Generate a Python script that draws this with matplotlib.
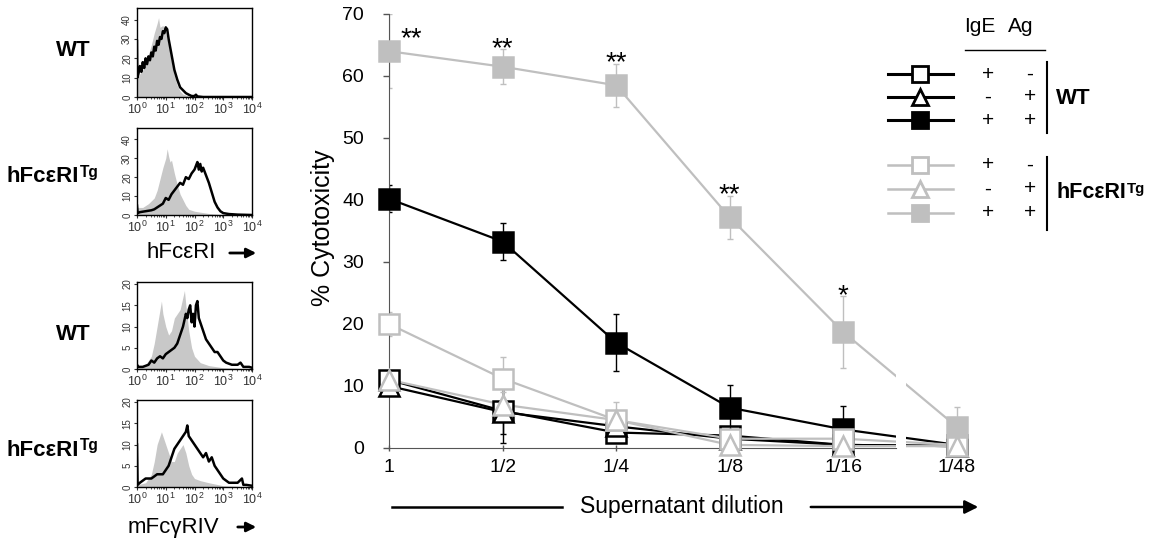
import numpy as np
import matplotlib
matplotlib.use('Agg')
import matplotlib.pyplot as plt
from matplotlib.ticker import LogLocator, NullFormatter

plt.rcParams['font.family'] = ['Liberation Sans', 'DejaVu Sans']

# ---- cytotoxicity data ----
dilutions = ['1', '1/2', '1/4', '1/8', '1/16', '1/48']

wt_ige = [11, 6, 2.5, 2, 0.5, 0.3]
wt_ige_err = [1.5, 3.8, 1, 1, 0.5, 0.3]
wt_ag = [10, 5.8, 3.5, 1.5, 0.5, 0.3]
wt_ag_err = [1, 5, 0.8, 0.8, 0.5, 0.3]
wt_both = [40.2, 33.3, 17, 6.5, 3, 0.5]
wt_both_err = [2.2, 3, 4.6, 3.6, 3.7, 0.5]

tg_ige = [20, 11.2, 4.5, 1.5, 1.5, 0.5]
tg_ige_err = [2, 3.5, 1, 0.5, 0.5, 0.3]
tg_ag = [11, 7, 4.5, 0.5, 0.3, 0.3]
tg_ag_err = [1, 2, 3, 0.5, 0.3, 0.3]
tg_both = [64, 61.5, 58.5, 37.2, 18.7, 3.4]
tg_both_err = [6, 2.8, 3.5, 3.5, 5.8, 3.2]

stars = ['**', '**', '**', '**', '*', '']

# ---- flow histograms: log10 position, counts ----
h1_iso_d = [0, 0.1, 0.2, 0.3, 0.4, 0.5, 0.6, 0.7, 0.75, 0.8, 0.9, 1.0, 1.1, 1.2, 1.3, 1.4, 1.5, 1.6, 1.8, 2.0, 2.5, 4]
h1_iso_v = [10, 12, 14, 18, 22, 27, 33, 38, 41, 36, 37, 33, 27, 18, 11, 6, 3, 1.5, 0.5, 0.2, 0, 0]
h1_st_d = [0, 0.01, 0.05, 0.1, 0.15, 0.2, 0.25, 0.3, 0.35, 0.4, 0.45, 0.5, 0.55, 0.6, 0.65, 0.7, 0.75, 0.8,
           0.85, 0.9, 0.95, 1.0, 1.05, 1.1, 1.2, 1.3, 1.4, 1.5, 1.6, 1.7, 1.8, 1.9, 2.0, 2.05, 2.1, 2.3, 4]
h1_st_v = [29, 10, 12, 16, 13, 18, 15, 20, 17, 21, 19, 23, 21, 26, 24, 29, 27, 31, 30, 34, 33, 36, 35, 30,
           22, 14, 9, 5, 3.5, 2, 1.2, 0.5, 0.5, 1.2, 0.3, 0, 0]

h2_iso_d = [0, 0.2, 0.4, 0.6, 0.7, 0.8, 0.9, 1.0, 1.05, 1.1, 1.15, 1.2, 1.3, 1.4, 1.5, 1.6, 1.7, 1.8, 2.0, 2.2, 2.5, 3.0, 4]
h2_iso_v = [4, 4, 6, 9, 13, 19, 25, 30, 35, 31, 28, 29, 22, 16, 11, 8, 5, 3, 2, 1.5, 0.8, 0.2, 0]
h2_st_d = [0, 0.02, 0.1, 0.3, 0.5, 0.6, 0.7, 0.8, 0.9, 1.0, 1.1, 1.2, 1.3, 1.4, 1.5, 1.6, 1.7, 1.8, 1.9, 2.0,
           2.05, 2.1, 2.15, 2.2, 2.25, 2.3, 2.4, 2.5, 2.6, 2.7, 2.8, 2.9, 3.0, 3.2, 3.5, 4]
h2_st_v = [5, 1, 1.5, 2, 2.5, 3, 4, 5, 6, 9, 8, 11, 13, 15, 17, 16, 20, 19, 22, 24, 26, 28, 24, 27, 23, 25,
           21, 17, 12, 7, 4, 2, 1, 0.5, 0.2, 0]

h3_iso_d = [0, 0.3, 0.5, 0.6, 0.7, 0.8, 0.85, 0.9, 1.0, 1.1, 1.2, 1.3, 1.4, 1.5, 1.6, 1.65, 1.7, 1.8, 1.9, 2.0, 2.2, 2.5, 3.0, 4]
h3_iso_v = [0.5, 1, 3, 6, 10, 14, 16, 13, 10, 8, 9, 12, 13, 14, 17, 18.5, 15, 9, 5, 3, 1.5, 0.8, 0.3, 0]
h3_st_d = [0, 0.05, 0.2, 0.4, 0.5, 0.6, 0.7, 0.8, 0.9, 1.0, 1.1, 1.2, 1.3, 1.4, 1.5, 1.6, 1.7, 1.75, 1.8,
           1.85, 1.9, 1.95, 2.0, 2.05, 2.1, 2.15, 2.2, 2.3, 2.4, 2.5, 2.6, 2.7, 2.8, 2.9, 3.0, 3.1, 3.3,
           3.5, 3.6, 3.7, 3.9, 4]
h3_st_v = [1, 0.5, 0.5, 1, 2, 1.5, 2.5, 3, 2.5, 3.5, 4, 4.5, 5, 6, 8, 10, 13, 12, 14, 15, 11, 13, 10, 15,
           16, 12, 11, 9, 7, 6, 5, 4, 4, 3, 2, 1.5, 1, 1, 1.5, 0.5, 0.5, 0.3]

h4_iso_d = [0, 0.3, 0.5, 0.6, 0.7, 0.8, 0.85, 0.9, 1.0, 1.1, 1.2, 1.3, 1.4, 1.5, 1.6, 1.7, 1.8, 1.9, 2.0, 2.2, 2.5, 3.0, 4]
h4_iso_v = [0.5, 1, 3, 6, 10, 12, 13, 12, 10, 8, 6, 6, 8, 9, 10, 8, 5, 3, 2, 1.5, 1, 0.3, 0]
h4_st_d = [0, 0.02, 0.1, 0.3, 0.5, 0.7, 0.9, 1.0, 1.1, 1.2, 1.3, 1.4, 1.5, 1.6, 1.7, 1.75, 1.8, 1.9, 2.0,
           2.1, 2.2, 2.3, 2.4, 2.5, 2.6, 2.7, 2.8, 2.9, 3.0, 3.2, 3.5, 3.65, 3.7, 3.8, 4]
h4_st_v = [10, 0.5, 1, 2, 2, 3, 3, 4, 5, 7, 9, 10, 11, 12, 13, 14.5, 12, 11, 10, 9, 8, 7, 8, 6, 7, 5, 4,
           3, 2, 1, 1, 2, 0.5, 0.5, 0.3]

GRAY = '#bfbfbf'
FILL = '#c8c8c8'
W, H = 1155, 542

fig = plt.figure(figsize=(W / 100, H / 100), dpi=100)


def px_axes(left, top, right, bottom):
    return fig.add_axes([left / W, 1 - bottom / H, (right - left) / W, (bottom - top) / H])


# ---- main cytotoxicity chart ----
ax = px_axes(389, 14, 991, 448)
ax.set_facecolor('none')
x = np.arange(len(dilutions))

# black series first, grey ones end up on top
series = [
    (wt_both, wt_both_err, 'black', 's', True),
    (wt_ige, wt_ige_err, 'black', 's', False),
    (wt_ag, wt_ag_err, 'black', '^', False),
    (tg_ige, tg_ige_err, GRAY, 's', False),
    (tg_ag, tg_ag_err, GRAY, '^', False),
    (tg_both, tg_both_err, GRAY, 's', True),
]
for vals, errs, col, mk, filled in series:
    ax.plot(x, vals, color=col, lw=1.6, zorder=2)
    ax.errorbar(x, vals, yerr=errs, fmt='none', ecolor=col, elinewidth=1, capsize=2, capthick=1, zorder=2)
for vals, errs, col, mk, filled in series:
    ax.plot(x, vals, ls='none', marker=mk, ms=14, mec=col, mew=1.8,
            mfc=col if filled else 'white', zorder=5, clip_on=False)

# axis break between 1/16 and 1/48
ax.axvspan(4.46, 4.55, color='white', lw=0, zorder=4)

for i, s in enumerate(stars):
    if not s:
        continue
    top = tg_both[i] + tg_both_err[i]
    if i == 0:
        ax.text(i + 0.2, tg_both[i] + 2.0, s, ha='center', va='center', fontsize=20)
    else:
        ax.text(i, top, s, ha='center', va='center', fontsize=20)

ax.set_xlim(0, 5.3)
ax.set_ylim(0, 70)
ax.set_yticks(range(0, 71, 10))
ax.set_xticks(x)
ax.set_xticklabels(dilutions)
for sp in ['top', 'right']:
    ax.spines[sp].set_visible(False)
ax.spines['bottom'].set_bounds(0, 4.46)
ax.spines['left'].set_color('#555555')
ax.spines['bottom'].set_color('#555555')
ax.tick_params(axis='y', length=4, width=1, pad=14, labelsize=14, colors='#555555', labelcolor='black')
ax.tick_params(axis='x', length=4, width=1, pad=6, labelsize=14, direction='inout', colors='#555555',
               labelcolor='black')


# ---- flow histograms ----
def hist_panel(box, iso_d, iso_v, st_d, st_v, ymax, yticks):
    h = px_axes(*box)
    h.fill_between(10 ** np.array(iso_d), iso_v, color=FILL, lw=0)
    h.plot(10 ** np.array(st_d), st_v, color='black', lw=1.8)
    h.set_xscale('log')
    h.set_xlim(1, 1e4)
    h.set_ylim(0, ymax)
    h.set_yticks(yticks)
    h.xaxis.set_major_locator(LogLocator(base=10, numticks=5))
    h.xaxis.set_minor_locator(LogLocator(base=10, subs=np.arange(2, 10), numticks=20))
    h.xaxis.set_minor_formatter(NullFormatter())
    h.tick_params(which='both', direction='out', length=2.5, pad=1, colors='#333333')
    h.tick_params(axis='x', labelsize=9)
    h.tick_params(axis='y', labelsize=7)
    h.tick_params(which='minor', length=1.5)
    for lab in h.get_yticklabels():
        lab.set_rotation(90)
        lab.set_va('center')
    for sp in h.spines.values():
        sp.set_linewidth(1)
    return h


hist_panel((137, 8, 252, 97), h1_iso_d, h1_iso_v, h1_st_d, h1_st_v, 46, [0, 10, 20, 30, 40])
hist_panel((137, 128, 252, 215), h2_iso_d, h2_iso_v, h2_st_d, h2_st_v, 46, [0, 10, 20, 30, 40])
hist_panel((137, 282, 252, 369), h3_iso_d, h3_iso_v, h3_st_d, h3_st_v, 20.5, [0, 5, 10, 15, 20])
hist_panel((137, 400, 252, 487), h4_iso_d, h4_iso_v, h4_st_d, h4_st_v, 20.5, [0, 5, 10, 15, 20])

# ---- overlay for labels and legend (pixel coordinates) ----
ov = fig.add_axes([0, 0, 1, 1])
ov.set_xlim(0, W)
ov.set_ylim(H, 0)
ov.axis('off')


def tg_label(xp, yp, size, ha='left'):
    t = ov.text(xp, yp, 'hFcεRI', fontsize=size, fontweight='bold', ha=ha, va='center')
    ov.annotate('Tg', xy=(1.02, 0.52), xycoords=t, fontsize=size * 0.7, fontweight='bold',
                ha='left', va='baseline')


ov.text(73, 50, 'WT', fontsize=16, fontweight='bold', ha='center', va='center')
tg_label(6, 177, 16)
ov.text(73, 334, 'WT', fontsize=16, fontweight='bold', ha='center', va='center')
tg_label(6, 450, 16)

ov.text(181, 253, 'hFcεRI', fontsize=16, ha='center', va='center')
ov.annotate('', xy=(259, 253), xytext=(227, 253),
            arrowprops=dict(arrowstyle='-|>', color='black', lw=2, mutation_scale=14))
ov.text(173, 527, 'mFcγRIV', fontsize=16, ha='center', va='center')
ov.annotate('', xy=(259, 527), xytext=(235, 527),
            arrowprops=dict(arrowstyle='-|>', color='black', lw=2, mutation_scale=14))

# y label and x label with arrow
ov.text(323, 228, '% Cytotoxicity', fontsize=18, rotation=90, ha='center', va='center')
ov.text(682, 507, 'Supernatant dilution', fontsize=16.5, ha='center', va='center')
ov.plot([392, 562], [507, 507], color='black', lw=1.8)
ov.annotate('', xy=(981, 507), xytext=(808, 507),
            arrowprops=dict(arrowstyle='-|>', color='black', lw=1.8, mutation_scale=20))

# legend
ov.text(980, 27, 'IgE', fontsize=15, ha='center', va='center')
ov.text(1021, 27, 'Ag', fontsize=15, ha='center', va='center')
ov.plot([965, 1045], [50, 50], color='black', lw=1)

legend_rows = [
    (74, 'black', 's', False, '+', '-'),
    (97, 'black', '^', False, '-', '+'),
    (120, 'black', 's', True, '+', '+'),
    (165, GRAY, 's', False, '+', '-'),
    (189, GRAY, '^', False, '-', '+'),
    (213, GRAY, 's', True, '+', '+'),
]
for yp, col, mk, filled, ige, ag in legend_rows:
    ov.plot([888, 953], [yp, yp], color=col, lw=2.2 if col == 'black' else 1.8)
    ov.plot([920], [yp], ls='none', marker=mk, ms=12, mec=col, mew=2, mfc=col if filled else 'white')
    ov.text(988, yp, ige, fontsize=15, ha='center', va='center')
    ov.text(1030, yp, ag, fontsize=15, ha='center', va='center')

ov.plot([1047, 1047], [62, 133], color='black', lw=1.5)
ov.plot([1047, 1047], [157, 230], color='black', lw=1.5)
ov.text(1056, 98, 'WT', fontsize=16, fontweight='bold', ha='left', va='center')
tg_label(1056, 193, 15.5)

fig.savefig('out.png', dpi=100)
